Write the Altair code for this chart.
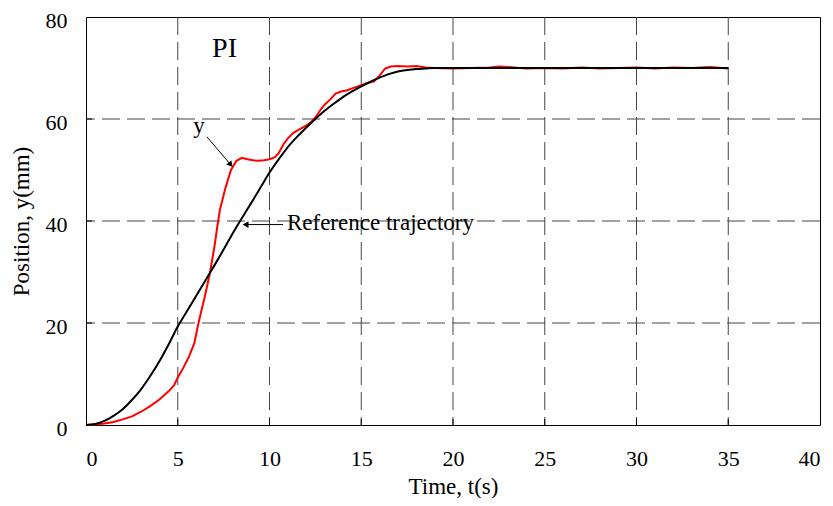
import altair as alt
import pandas as pd

FONT = "Liberation Serif"

# Reference trajectory (black)
t_ref = [0, 0.5, 1, 1.5, 2, 2.5, 3, 3.5, 4, 4.5, 5, 5.5, 6, 6.5, 7, 7.5, 8, 8.5, 9, 9.5, 10, 10.5, 11, 11.5, 12, 12.5, 13,
         13.5, 14, 14.5, 15, 15.5, 16, 16.5, 17, 17.5, 18, 18.5, 19, 19.5, 20, 25, 30, 35]
y_ref = [0, 0.2, 0.8, 1.8, 3.1, 4.9, 7.0, 9.6, 12.5, 15.8, 19.3, 22.3, 25.3, 28.3, 31.3, 34.4, 37.6, 40.6, 43.5, 46.5,
         49.5, 52.1, 54.5, 56.5, 58.3, 60.0, 61.6, 63.0, 64.3, 65.4, 66.4, 67.3, 68.1, 68.8, 69.3, 69.6, 69.8, 69.9,
         70.0, 70.0, 70.0, 70.0, 70.0, 70.0]

# Measured output y (red)
t_y = [0, 0.5, 1.0, 1.5, 2.0, 2.5, 3.0, 3.5, 4.0, 4.5, 4.8, 5.0, 5.3, 5.6, 5.9, 6.1, 6.3, 6.45, 6.75, 7.0, 7.2, 7.3, 7.6, 7.9, 8.2, 8.5,
       8.8, 9.1, 9.4, 9.7, 10.0, 10.3, 10.5, 10.75, 11.0, 11.3, 11.6, 11.9, 12.2, 12.5, 12.8, 13.0, 13.3, 13.6, 13.9,
       14.2, 14.5, 14.9, 15.3, 15.7, 16.0, 16.3, 16.6, 17.0, 17.5, 18.0, 18.5, 19.0, 20.0, 21.0, 22.0, 22.5, 23.0, 24.0,
       25.0, 26.0, 27.0, 28.0, 29.0, 30.0, 31.0, 32.0, 33.0, 34.0, 35.0]
y_y = [0, 0.1, 0.3, 0.6, 1.1, 1.7, 2.6, 3.7, 5.0, 6.6, 7.8, 9.3, 11.2, 13.3, 16.0, 19.5, 22.6, 24.8, 29.7, 35.0, 40.0, 42.2, 46.5, 50.0, 51.8, 52.4,
       52.1, 51.9, 51.8, 51.9, 52.1, 52.5, 53.3, 55.0, 56.2, 57.3, 57.9, 58.5, 59.2, 60.3, 61.9, 62.8, 63.8, 65.0, 65.4,
       65.6, 66.0, 66.5, 67.0, 67.4, 68.5, 69.9, 70.3, 70.4, 70.3, 70.4, 70.1, 70.0, 69.9, 70.0, 70.1, 70.3, 70.2, 69.9,
       70.0, 69.9, 70.1, 69.9, 70.0, 70.1, 69.9, 70.1, 70.0, 70.2, 69.9]

x_ticks = [0, 5, 10, 15, 20, 25, 30, 35, 40]
y_ticks = [0, 20, 40, 60, 80]
x_grid = [5, 10, 15, 20, 25, 30, 35]
y_grid = [20, 40, 60]

# annotations
labels = ["PI", "y", "Reference trajectory"]
label_t = [7.55, 6.16, 10.95]
label_y = [72.2, 57.3, 38.2]

# arrows: start (t, y) -> end (t, y)
arrow_t1 = [6.59, 10.74]
arrow_y1 = [56.5, 39.3]
arrow_t2 = [7.85, 8.75]
arrow_y2 = [51.2, 39.3]
arrow_angle = [139, 270]

W, H = 734, 408
xs = alt.Scale(domain=[0, 40], nice=False)
ys = alt.Scale(domain=[0, 80], nice=False)

ref_df = pd.DataFrame({"t": t_ref, "y": y_ref})
y_df = pd.DataFrame({"t": t_y, "y": y_y})
xg = pd.DataFrame({"t": x_grid})
yg = pd.DataFrame({"y": y_grid})
arr = pd.DataFrame({"t1": arrow_t1, "y1": arrow_y1, "t2": arrow_t2, "y2": arrow_y2, "a": arrow_angle})

base_x = alt.X("t:Q", scale=xs,
               axis=alt.Axis(values=x_ticks, title="Time, t(s)", grid=False, tickSize=0,
                             labelPadding=23, titlePadding=6, domain=False,
                             labelFont=FONT, titleFont=FONT, labelFontSize=22, titleFontSize=23,
                             labelColor="black", titleColor="black", titleFontWeight="normal"))
base_y = alt.Y("y:Q", scale=ys,
               axis=alt.Axis(values=y_ticks, title="Position, y(mm)", grid=False, tickSize=0,
                             labelPadding=19, titlePadding=12, domain=False, labelOffset=3,
                             labelFont=FONT, titleFont=FONT, labelFontSize=22, titleFontSize=23,
                             labelColor="black", titleColor="black", titleFontWeight="normal"))

vgrid = alt.Chart(xg).mark_rule(color="#444444", strokeWidth=1, strokeDash=[18, 7]).encode(
    x=alt.X("t:Q", scale=xs))
hgrid = alt.Chart(yg).mark_rule(color="#444444", strokeWidth=1, strokeDash=[18, 7]).encode(
    y=alt.Y("y:Q", scale=ys))
xtick = alt.Chart(xg).mark_rule(color="black", strokeWidth=1).encode(
    x=alt.X("t:Q", scale=xs), y=alt.value(H), y2=alt.value(H - 6))
ytick = alt.Chart(yg).mark_rule(color="black", strokeWidth=1).encode(
    y=alt.Y("y:Q", scale=ys), x=alt.value(0), x2=alt.value(6))

red = alt.Chart(y_df).mark_line(color="#ff0000", strokeWidth=2).encode(x=base_x, y=base_y)
black = alt.Chart(ref_df).mark_line(color="black", strokeWidth=2, interpolate="monotone").encode(x="t:Q", y="y:Q")

ann_df = pd.DataFrame({"label": labels, "t": label_t, "y": label_y})
pi_txt = alt.Chart(ann_df.iloc[[0]]).mark_text(font=FONT, fontSize=28, align="center", baseline="alphabetic").encode(
    x="t:Q", y="y:Q", text="label:N")
y_txt = alt.Chart(ann_df.iloc[[1]]).mark_text(font=FONT, fontSize=23, align="center", baseline="alphabetic").encode(
    x="t:Q", y="y:Q", text="label:N")
ref_txt = alt.Chart(ann_df.iloc[[2]]).mark_text(font=FONT, fontSize=23, align="left", baseline="alphabetic").encode(
    x="t:Q", y="y:Q", text="label:N")

arrow_line = alt.Chart(arr).mark_rule(color="black", strokeWidth=1).encode(
    x="t1:Q", y="y1:Q", x2="t2:Q", y2="y2:Q")
arrow_head = alt.Chart(arr).mark_point(shape="triangle", filled=True, color="black", size=45, opacity=1).encode(
    x="t2:Q", y="y2:Q", angle=alt.Angle("a:Q", scale=None))

chart = alt.layer(vgrid, hgrid, xtick, ytick, red, black, arrow_line, arrow_head, pi_txt, y_txt, ref_txt).properties(
    width=W, height=H,
    autosize=alt.AutoSizeParams(type="none"),
    padding={"left": 78, "top": 9, "right": 5, "bottom": 73},
    background="white",
).configure_view(stroke="black", strokeWidth=1)

chart.save("out.html", embed_options={"renderer": "svg", "actions": False})
